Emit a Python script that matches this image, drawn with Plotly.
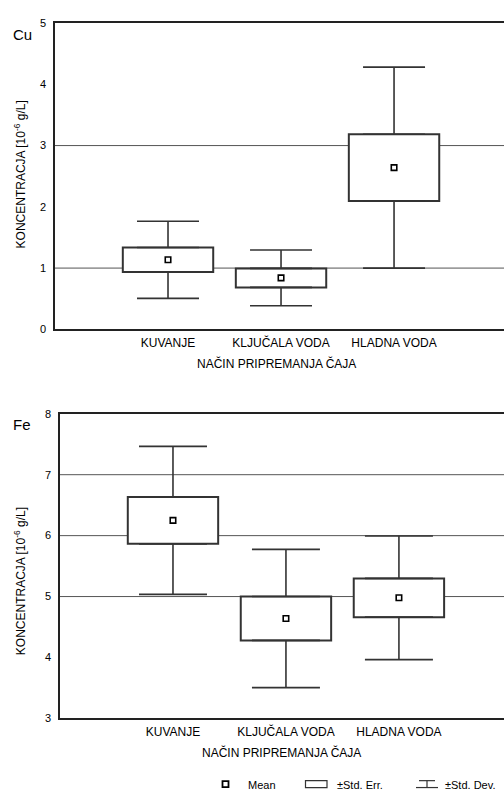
import plotly.graph_objects as go

W, H = 504, 797

categories = ["KUVANJE", "KLJUČALA VODA", "HLADNA VODA"]

# Cu panel
cu_mean = [1.135, 0.84, 2.64]
cu_se = [0.20, 0.155, 0.545]
cu_sd = [0.63, 0.455, 1.64]
cu_ticks = [0, 1, 2, 3, 4, 5]
cu_grid = [1, 3]

# Fe panel
fe_mean = [6.25, 4.64, 4.98]
fe_se = [0.385, 0.36, 0.318]
fe_sd = [1.215, 1.135, 1.015]
fe_ticks = [3, 4, 5, 6, 7, 8]
fe_grid = [5, 6, 7]

FONT = "Liberation Sans, Arial, sans-serif"
LC = "#333333"

fig = go.Figure()

def px_x(p):
    return p / W

def px_y(p):
    return 1 - p / H

def add_panel(mean, se, sd, xa, ya, capw):
    xref = "x" if xa == 1 else "x%d" % xa
    yref = "y" if ya == 1 else "y%d" % ya
    lo = [m - s for m, s in zip(mean, se)]
    hi = [m + s for m, s in zip(mean, se)]
    fig.add_trace(go.Bar(
        x=categories, y=[2 * s for s in se], base=lo, width=0.8,
        marker=dict(color="white", line=dict(color=LC, width=2)),
        xaxis=xref, yaxis=yref, showlegend=False, hoverinfo="skip"))
    fig.add_trace(go.Scatter(
        x=categories, y=hi, mode="markers", marker=dict(size=1, opacity=0),
        error_y=dict(type="data", symmetric=False,
                     array=[d - s for d, s in zip(sd, se)],
                     arrayminus=[0, 0, 0], width=capw, thickness=1.6, color=LC),
        xaxis=xref, yaxis=yref, showlegend=False, hoverinfo="skip"))
    fig.add_trace(go.Scatter(
        x=categories, y=lo, mode="markers", marker=dict(size=1, opacity=0),
        error_y=dict(type="data", symmetric=False,
                     array=[0, 0, 0],
                     arrayminus=[d - s for d, s in zip(sd, se)],
                     width=capw, thickness=1.6, color=LC),
        xaxis=xref, yaxis=yref, showlegend=False, hoverinfo="skip"))
    fig.add_trace(go.Scatter(
        x=categories, y=mean, mode="markers",
        marker=dict(symbol="square", size=5.5, color="white",
                    line=dict(color="black", width=1.6)),
        xaxis=xref, yaxis=yref, showlegend=False, hoverinfo="skip"))

add_panel(cu_mean, cu_se, cu_sd, 1, 1, 31)
add_panel(fe_mean, fe_se, fe_sd, 2, 2, 34)

axis_common = dict(showline=True, linecolor="#222222", linewidth=1.5,
                   showgrid=False, zeroline=False, ticks="",
                   tickfont=dict(family=FONT, size=12, color="black"))
ytick = dict(family=FONT, size=11, color="black")

fig.update_layout(
    width=W, height=H, margin=dict(l=0, r=0, t=0, b=0),
    paper_bgcolor="white", plot_bgcolor="white",
    xaxis=dict(domain=[px_x(55), 1], anchor="y", range=[-1, 2.973],
               mirror=True, ticklabelstandoff=1, **axis_common),
    yaxis=dict(domain=[px_y(328.3), px_y(17.3)], anchor="x", range=[0, 5],
               tickvals=cu_ticks, ticklabelstandoff=5,
               **{**axis_common, "tickfont": ytick}),
    xaxis2=dict(domain=[px_x(60), 1], anchor="y2", range=[-1, 2.93],
                mirror=True, ticklabelstandoff=1, **axis_common),
    yaxis2=dict(domain=[px_y(723.3), px_y(414)], anchor="x2", range=[3, 8],
                tickvals=fe_ticks, ticklabelstandoff=5,
                **{**axis_common, "tickfont": ytick}),
)

shapes = []
for g in cu_grid:
    shapes.append(dict(type="line", xref="x domain", yref="y", x0=0, x1=1, y0=g, y1=g,
                       line=dict(color="#555555", width=1), layer="below"))
for g in fe_grid:
    shapes.append(dict(type="line", xref="x2 domain", yref="y2", x0=0, x1=1, y0=g, y1=g,
                       line=dict(color="#555555", width=1), layer="below"))

# legend symbols
shapes.append(dict(type="rect", xref="paper", yref="paper",
                   x0=px_x(305.5), x1=px_x(327), y0=px_y(793.5), y1=px_y(786.5),
                   line=dict(color=LC, width=1.2), fillcolor="white"))
shapes.append(dict(type="line", xref="paper", yref="paper",
                   x0=px_x(419), x1=px_x(435), y0=px_y(786.5), y1=px_y(786.5),
                   line=dict(color=LC, width=1.2)))
shapes.append(dict(type="line", xref="paper", yref="paper",
                   x0=px_x(427), x1=px_x(427), y0=px_y(786.5), y1=px_y(793.5),
                   line=dict(color=LC, width=1.2)))
shapes.append(dict(type="line", xref="paper", yref="paper",
                   x0=px_x(416), x1=px_x(438), y0=px_y(793.5), y1=px_y(793.5),
                   line=dict(color=LC, width=1.2)))
shapes.append(dict(type="rect", xref="paper", yref="paper",
                   x0=px_x(222.5), x1=px_x(228.5), y0=px_y(793), y1=px_y(787),
                   line=dict(color="black", width=1.8), fillcolor="white"))
fig.update_layout(shapes=shapes)

ann = []
def text(x, y, s, size, angle=0, xanchor="center"):
    ann.append(dict(x=px_x(x), y=px_y(y), xref="paper", yref="paper", text=s,
                    showarrow=False, textangle=angle, xanchor=xanchor, yanchor="middle",
                    font=dict(family=FONT, size=size, color="black")))

text(22, 29, "Cu", 15)
text(22, 425, "Fe", 15)
text(276.5, 362.7, "NAČIN PRIPREMANJA ČAJA", 12)
text(281.5, 758, "NAČIN PRIPREMANJA ČAJA", 12)
text(20, 171, "KONCENTRACJA [10<sup>-6</sup> g/L]", 12, angle=-90)
text(20, 584, "KONCENTRACJA [10<sup>-6</sup> g/L]", 12, angle=-90)
text(246, 790.5, "Mean", 11, xanchor="left")
text(335, 790.5, "±Std. Err.", 11, xanchor="left")
text(443, 790.5, "±Std. Dev.", 11, xanchor="left")
fig.update_layout(annotations=ann)

fig.write_html("out.html", config={"displayModeBar": False},
               post_script="document.body.style.margin='0';document.body.style.overflow='hidden';")
